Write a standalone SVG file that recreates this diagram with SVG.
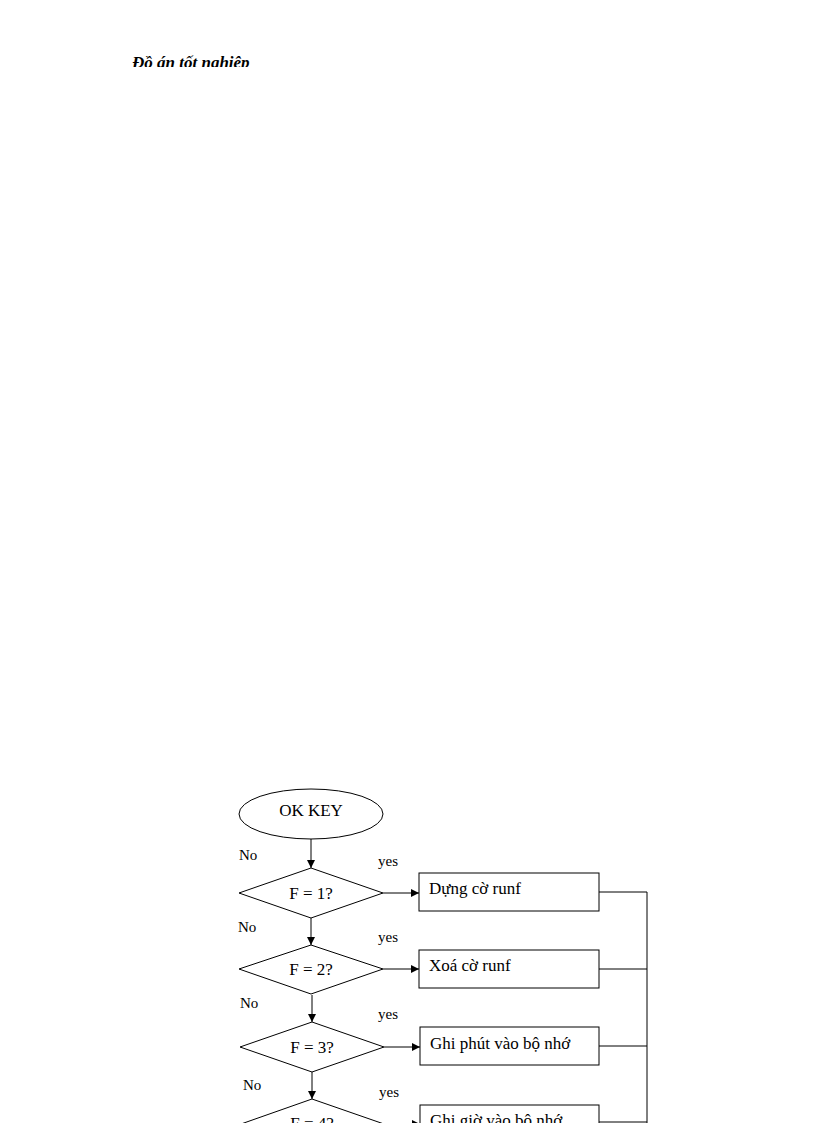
<svg xmlns="http://www.w3.org/2000/svg" width="816" height="1123" viewBox="0 0 816 1123">
<defs>
<style>
.s{fill:#fff;stroke:#000;stroke-width:1}
.l{fill:none;stroke:#000;stroke-width:1}
.t{font-family:"Liberation Serif",serif;font-size:17px;fill:#000}
.m{font-family:"Liberation Serif",serif;font-size:15px;fill:#000}
</style>
<marker id="a" markerWidth="8" markerHeight="8" refX="8" refY="4" orient="auto" markerUnits="userSpaceOnUse"><path d="M0,0L8,4L0,8z" fill="#000"/></marker>
<clipPath id="hc"><rect x="120" y="40" width="200" height="27"/></clipPath>
</defs>
<rect width="816" height="1123" fill="#fff"/>
<text x="132" y="68" clip-path="url(#hc)" font-family="Liberation Serif,serif" font-style="italic" font-weight="bold" font-size="17" fill="#000">Đồ án tốt nghiệp</text>
<g id="connectors">
<line class="l" x1="311" y1="839" x2="311" y2="868" marker-end="url(#a)"/>
<line class="l" x1="311" y1="918" x2="311" y2="945" marker-end="url(#a)"/>
<line class="l" x1="312" y1="995" x2="312" y2="1022" marker-end="url(#a)"/>
<line class="l" x1="312" y1="1072" x2="312" y2="1099" marker-end="url(#a)"/>
<line class="l" x1="383" y1="893" x2="419" y2="893" marker-end="url(#a)"/>
<line class="l" x1="383" y1="969" x2="419" y2="969" marker-end="url(#a)"/>
<line class="l" x1="384" y1="1047" x2="420" y2="1047" marker-end="url(#a)"/>
<line class="l" x1="384" y1="1124" x2="420" y2="1124" marker-end="url(#a)"/>
<polyline class="l" points="599,892 647,892 647,1123"/>
<line class="l" x1="599" y1="969" x2="647" y2="969"/>
<line class="l" x1="599" y1="1046" x2="647" y2="1046"/>
<line class="l" x1="599" y1="1122" x2="647" y2="1122"/>
<text class="m" x="239" y="860">No</text><text class="m" x="378" y="866">yes</text>
<text class="m" x="238" y="932">No</text><text class="m" x="378" y="942">yes</text>
<text class="m" x="240" y="1008">No</text><text class="m" x="378" y="1019">yes</text>
<text class="m" x="243" y="1090">No</text><text class="m" x="379" y="1097">yes</text>
</g>
<g id="start"><ellipse class="s" cx="311" cy="814" rx="72" ry="25"/><text class="t" x="311" y="816" text-anchor="middle">OK  KEY</text></g>
<g id="d1"><polygon class="s" points="239,893 311,868 383,893 311,918"/><text class="t" x="311" y="899" text-anchor="middle">F = 1?</text></g>
<g id="d2"><polygon class="s" points="239,969 311,945 383,969 311,994"/><text class="t" x="311" y="975" text-anchor="middle">F = 2?</text></g>
<g id="d3"><polygon class="s" points="240,1047 312,1022 384,1047 312,1072"/><text class="t" x="312" y="1053" text-anchor="middle">F = 3?</text></g>
<g id="d4"><polygon class="s" points="241,1124 312,1099 384,1124 312,1149"/><text class="t" x="312" y="1129" text-anchor="middle">F = 4?</text></g>
<g id="b1"><rect class="s" x="419" y="873" width="180" height="38"/><text class="t" x="429" y="894">Dựng cờ runf</text></g>
<g id="b2"><rect class="s" x="419" y="950" width="180" height="38"/><text class="t" x="429" y="971">Xoá cờ runf</text></g>
<g id="b3"><rect class="s" x="420" y="1027" width="179" height="38"/><text class="t" x="430" y="1049">Ghi phút vào bộ nhớ</text></g>
<g id="b4"><rect class="s" x="420" y="1105" width="179" height="38"/><text class="t" x="430" y="1126">Ghi giờ vào bộ nhớ</text></g>
</svg>
